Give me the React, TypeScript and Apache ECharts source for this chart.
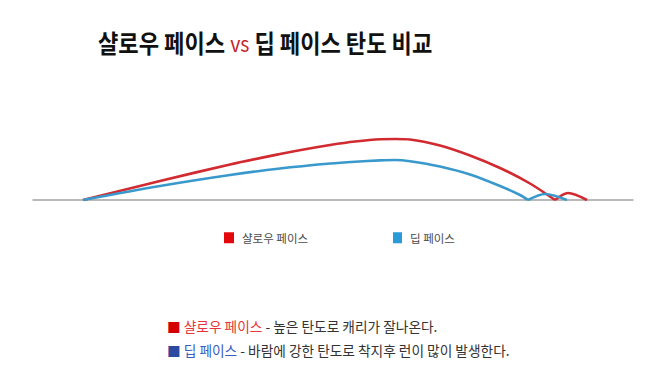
import React, { useEffect, useRef } from "react";
import * as echarts from "echarts";

const shallowName = "샬로우 페이스";
const deepName = "딥 페이스";

// [distance, height]
const shallowFlight: [number, number][] = [
  [0, 0], [38.5, 19], [73.5, 35.5], [98.5, 46], [111, 50.8], [123.5, 55], [136, 58.5],
  [148.5, 60.8], [156, 61], [163.5, 60.5], [178.5, 54.5], [193.5, 44.5], [208.5, 32],
  [223.5, 16.5], [236, 0],
];
const shallowBounce: [number, number][] = [[236, 0], [242.5, 7], [252, 0]];

const deepFlight: [number, number][] = [
  [0, 0], [38.5, 14], [73.5, 25], [98.5, 31.5], [123.5, 36.5], [136, 38.3], [148.5, 39.6],
  [156, 40], [163.5, 38.8], [178.5, 33.5], [193.5, 25.5], [208.5, 14], [218.5, 5], [222.5, 0],
];
const deepBounce: [number, number][] = [[222.5, 0], [231, 6], [242, 0]];

const titleParts = ["샬로우 페이스 ", "vs", " 딥 페이스 탄도 비교"];
const note1 = ["■ ", "샬로우 페이스", " - 높은 탄도로 캐리가 잘나온다."];
const note2 = ["■ ", "딥 페이스", " - 바람에 강한 탄도로 착지후 런이 많이 발생한다."];

const RED_LINE = "#d12a30";
const BLUE_LINE = "#3a99cc";
const FONT = "'Noto Sans CJK KR', 'Noto Sans', sans-serif";

export default function App() {
  const ref = useRef<HTMLDivElement>(null);
  useEffect(() => {
    if (!ref.current) return;
    const chart = echarts.init(ref.current, undefined, { renderer: "svg" });
    const lineSeries = (name: string | undefined, data: [number, number][], color: string) => ({
      type: "line",
      name,
      data,
      smooth: 0.3,
      symbol: "none",
      lineStyle: { color, width: 2.6 },
      itemStyle: { color },
      z: 3,
    });
    const legendText = { fontSize: 11.5, color: "#4a4a4a", fontFamily: FONT, padding: [0, 0, 0, 3] };
    chart.setOption({
      animation: false,
      backgroundColor: "#ffffff",
      textStyle: { fontFamily: FONT },
      grid: { left: 33, right: 25, top: 100, bottom: 167, containLabel: false },
      xAxis: {
        type: "value",
        min: -25,
        max: 275,
        axisLine: { show: true, lineStyle: { color: "#a3a3a3", width: 1.5 } },
        axisTick: { show: false },
        axisLabel: { show: false },
        splitLine: { show: false },
      },
      yAxis: { type: "value", min: 0, max: 100, show: false },
      legend: [
        {
          data: [{ name: shallowName, itemStyle: { color: "#e3080c" } }],
          left: 224,
          top: 232,
          padding: 0,
          itemWidth: 10,
          itemHeight: 11,
          icon: "rect",
          textStyle: legendText,
          selectedMode: false,
        },
        {
          data: [{ name: deepName, itemStyle: { color: "#2a9ad8" } }],
          left: 393,
          top: 232,
          padding: 0,
          itemWidth: 9,
          itemHeight: 11,
          icon: "rect",
          textStyle: legendText,
          selectedMode: false,
        },
      ],
      series: [
        lineSeries(shallowName, shallowFlight, RED_LINE),
        lineSeries(undefined, shallowBounce, RED_LINE),
        lineSeries(deepName, deepFlight, BLUE_LINE),
        lineSeries(undefined, deepBounce, BLUE_LINE),
      ],
      graphic: [
        {
          type: "text",
          x: 98,
          y: 30,
          scaleX: 0.885,
          style: {
            text: `{a|${titleParts[0]}}{v|${titleParts[1]}}{a|${titleParts[2]}}`,
            rich: {
              a: { fontSize: 25, fontWeight: "bold", fill: "#111", fontFamily: FONT },
              v: { fontSize: 22, fontWeight: "normal", fill: "#c8242c", fontFamily: FONT },
            },
          },
        },
        {
          type: "text",
          x: 167,
          y: 319,
          style: {
            text: `{s|${note1[0]}}{h|${note1[1]}}{t|${note1[2]}}`,
            rich: {
              s: { fontSize: 13.7, fill: "#d40000", fontFamily: FONT },
              h: { fontSize: 13.7, fill: "#e8343a", fontFamily: FONT },
              t: { fontSize: 13.7, fill: "#333", fontFamily: FONT },
            },
          },
        },
        {
          type: "text",
          x: 167,
          y: 343,
          style: {
            text: `{s|${note2[0]}}{h|${note2[1]}}{t|${note2[2]}}`,
            rich: {
              s: { fontSize: 13.7, fill: "#2b4aa0", fontFamily: FONT },
              h: { fontSize: 13.7, fill: "#3a5cc0", fontFamily: FONT },
              t: { fontSize: 13.7, fill: "#333", fontFamily: FONT },
            },
          },
        },
      ],
    });
    return () => chart.dispose();
  }, []);
  return <div ref={ref} style={{ width: 658, height: 367, position: "fixed", left: 0, top: 0 }} />;
}
